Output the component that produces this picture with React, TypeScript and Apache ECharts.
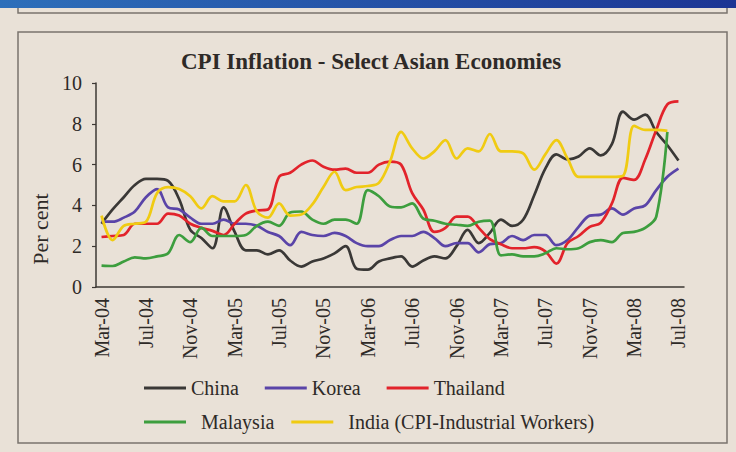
import React, { useEffect, useRef } from "react";
import * as echarts from "echarts";

const months = [
  "Mar-04", "Apr-04", "May-04", "Jun-04", "Jul-04", "Aug-04", "Sep-04", "Oct-04", "Nov-04", "Dec-04",
  "Jan-05", "Feb-05", "Mar-05", "Apr-05", "May-05", "Jun-05", "Jul-05", "Aug-05", "Sep-05", "Oct-05",
  "Nov-05", "Dec-05", "Jan-06", "Feb-06", "Mar-06", "Apr-06", "May-06", "Jun-06", "Jul-06", "Aug-06",
  "Sep-06", "Oct-06", "Nov-06", "Dec-06", "Jan-07", "Feb-07", "Mar-07", "Apr-07", "May-07", "Jun-07",
  "Jul-07", "Aug-07", "Sep-07", "Oct-07", "Nov-07", "Dec-07", "Jan-08", "Feb-08", "Mar-08", "Apr-08",
  "May-08", "Jun-08", "Jul-08",
];

const china = [
  3.1, 3.8, 4.4, 5.0, 5.3, 5.3, 5.2, 4.3, 2.8, 2.4,
  1.9, 3.9, 2.7, 1.8, 1.8, 1.6, 1.8, 1.3, 1.0, 1.25,
  1.4, 1.65, 2.0, 0.9, 0.85, 1.25, 1.4, 1.5, 1.0, 1.3,
  1.5, 1.4, 2.0, 2.8, 2.15, 2.65, 3.3, 3.0, 3.3, 4.5,
  5.8, 6.5, 6.25, 6.4, 6.8, 6.45, 7.0, 8.6, 8.2, 8.45,
  7.6, 6.95, 6.2,
];

const korea = [
  3.2, 3.2, 3.4, 3.7, 4.4, 4.8, 3.9, 3.8, 3.4, 3.1,
  3.1, 3.3, 3.1, 3.1, 3.0, 2.7, 2.5, 2.05, 2.7, 2.55,
  2.5, 2.65, 2.5, 2.15, 2.0, 2.0, 2.3, 2.5, 2.5, 2.7,
  2.4, 2.0, 2.15, 2.15, 1.7, 2.1, 2.15, 2.5, 2.3, 2.55,
  2.55, 2.05, 2.3, 2.95, 3.5, 3.55, 3.85, 3.55, 3.85, 4.0,
  4.75, 5.4, 5.8,
];

const thailand = [
  2.45, 2.5, 2.55, 3.1, 3.1, 3.1, 3.6, 3.5, 3.1, 2.9,
  2.75, 2.55, 3.1, 3.6, 3.75, 3.8, 5.4, 5.6, 6.0, 6.2,
  5.9, 5.75, 5.8, 5.6, 5.6, 6.0, 6.15, 6.0, 4.6, 3.8,
  2.7, 2.9, 3.45, 3.45, 2.9, 2.35, 2.1, 1.9, 1.9, 1.95,
  1.75, 1.15, 2.15, 2.5, 2.95, 3.15, 4.1, 5.35, 5.25, 6.25,
  7.7, 8.95, 9.1,
];

const malaysia = [
  1.05, 1.03, 1.25, 1.45, 1.4, 1.5, 1.65, 2.55, 2.2, 2.9,
  2.5, 2.5, 2.5, 2.55, 3.0, 3.2, 3.0, 3.65, 3.7, 3.3,
  3.1, 3.3, 3.3, 3.1, 4.75, 4.45, 3.95, 3.9, 4.1, 3.35,
  3.25, 3.1, 3.05, 3.0, 3.2, 3.25, 1.55, 1.6, 1.5, 1.5,
  1.65, 1.9, 1.85, 1.9, 2.2, 2.3, 2.2, 2.65, 2.7, 2.9,
  3.45, 7.6,
];

const india = [
  3.5, 2.3, 3.0, 3.1, 3.2, 4.6, 4.9, 4.8, 4.45, 3.85,
  4.45, 4.2, 4.2, 5.0, 3.7, 3.4, 4.1, 3.5, 3.55, 4.05,
  4.9, 5.65, 4.75, 4.9, 4.95, 5.1, 6.15, 7.6, 6.8, 6.3,
  6.65, 7.2, 6.3, 6.8, 6.65, 7.5, 6.65, 6.65, 6.55, 5.75,
  6.5, 7.2, 6.3, 5.4, 5.4, 5.4, 5.4, 5.45, 7.9, 7.7,
  7.7, 7.65,
];

const seriesNames = ["China", "Korea", "Thailand", "Malaysia", "India (CPI-Industrial Workers)"];
const seriesColors = ["#3a3836", "#5a44a8", "#e2232b", "#3d9e3e", "#f0cb12"];
const seriesData = [china, korea, thailand, malaysia, india];

const FONT = "'Liberation Serif', 'Times New Roman', serif";
const TEXT = "#2e2a27";
const AXIS = "#3d3834";
const BG = "#e9e1d7";

export default function App() {
  const ref = useRef<HTMLDivElement>(null);

  useEffect(() => {
    if (!ref.current) return;
    const chart = echarts.init(ref.current, null, { renderer: "svg" });
    const option = {
      animation: false,
      backgroundColor: BG,
      title: {
        text: "CPI Inflation - Select Asian Economies",
        left: 176,
        top: 45,
        textStyle: { fontFamily: FONT, fontSize: 23, fontWeight: "bold", color: TEXT },
      },
      legend: [
        {
          data: seriesNames.slice(0, 3),
          left: 139,
          top: 373,
          icon: "rect",
          itemWidth: 42,
          itemHeight: 3,
          itemGap: 26,
          textStyle: { fontFamily: FONT, fontSize: 20, color: TEXT },
        },
        {
          data: seriesNames.slice(3),
          left: 139,
          top: 407,
          icon: "rect",
          itemWidth: 42,
          itemHeight: 3,
          itemGap: 17,
          textStyle: { fontFamily: FONT, fontSize: 20, color: TEXT, padding: [0, 0, 0, 10] },
        },
      ],
      grid: { left: 96, right: 52, top: 83, bottom: 165, containLabel: false },
      xAxis: {
        type: "category",
        data: months,
        boundaryGap: true,
        axisLine: { lineStyle: { color: AXIS, width: 1.5 } },
        axisTick: { interval: 3, length: 4, lineStyle: { color: AXIS, width: 1.2 } },
        axisLabel: {
          interval: 3,
          rotate: 90,
          margin: 11,
          fontFamily: FONT,
          fontSize: 20,
          color: TEXT,
        },
        splitLine: { show: false },
      },
      yAxis: {
        type: "value",
        min: 0,
        max: 10,
        interval: 2,
        axisLine: { show: true, lineStyle: { color: AXIS, width: 1.5 } },
        axisTick: { show: true, length: 4, lineStyle: { color: AXIS, width: 1.2 } },
        axisLabel: { margin: 14, fontFamily: FONT, fontSize: 20, color: TEXT },
        splitLine: { show: false },
      },
      graphic: [
        {
          type: "rect",
          shape: { x: 0, y: 0, width: 736, height: 8 },
          style: {
            fill: new echarts.graphic.LinearGradient(0, 0, 1, 0, [
              { offset: 0, color: "#2d6fba" },
              { offset: 1, color: "#1c3594" },
            ]),
          },
          silent: true,
        },
        {
          type: "polyline",
          shape: { points: [[18, 8], [18, 13], [727, 13], [727, 8]] },
          style: { stroke: "#7a736d", lineWidth: 1.5, fill: null },
          silent: true,
        },
        {
          type: "rect",
          shape: { x: 18, y: 32, width: 709, height: 411 },
          style: { stroke: "#7a736d", lineWidth: 1.5, fill: null },
          silent: true,
        },
        {
          type: "text",
          x: 40,
          y: 229,
          rotation: Math.PI / 2,
          style: {
            text: "Per cent",
            fontFamily: FONT,
            fontSize: 22,
            fill: TEXT,
            textAlign: "center",
            textVerticalAlign: "middle",
          },
          silent: true,
        },
      ],
      series: seriesNames.map((name, k) => ({
        name,
        type: "line",
        data: seriesData[k],
        smooth: 0.35,
        symbol: "none",
        color: seriesColors[k],
        lineStyle: { color: seriesColors[k], width: 2.7 },
      })),
    };
    chart.setOption(option as any);
    return () => chart.dispose();
  }, []);

  return (
    <div
      ref={ref}
      style={{ position: "fixed", left: 0, top: 0, width: 736, height: 452 }}
    />
  );
}
